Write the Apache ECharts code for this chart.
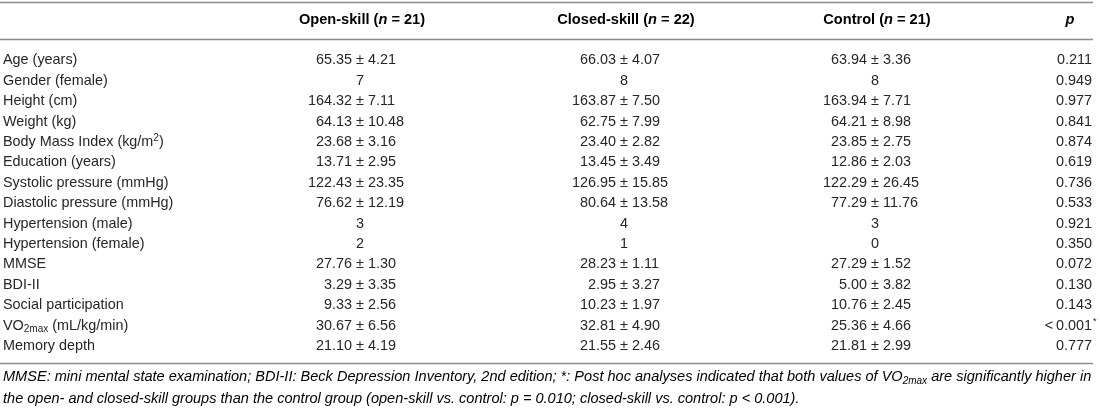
<!DOCTYPE html>
<html lang="en">
<head>
<meta charset="UTF-8">
<title>Participant characteristics</title>
<script src="https://cdn.jsdelivr.net/npm/echarts@6/dist/echarts.min.js"></script>
<style>
    html, body { margin: 0; padding: 0; background: #fff; }
    #table { width: 1100px; height: 412px; }
</style>
</head>
<body>
<div id="table"></div>
<script>
    // table data
    let rowLabels = ['Age (years)', 'Gender (female)', 'Height (cm)', 'Weight (kg)', 'Body Mass Index (kg/m{sup|2})',
        'Education (years)', 'Systolic pressure (mmHg)', 'Diastolic pressure (mmHg)', 'Hypertension (male)',
        'Hypertension (female)', 'MMSE', 'BDI-II', 'Social participation', 'VO{sub|2max} (mL/kg/min)', 'Memory depth'];
    let groupNames = ['Open-skill', 'Closed-skill', 'Control'];
    let groupN = [21, 22, 21];
    let openMean = [65.35, 7, 164.32, 64.13, 23.68, 13.71, 122.43, 76.62, 3, 2, 27.76, 3.29, 9.33, 30.67, 21.10];
    let openSd = [4.21, null, 7.11, 10.48, 3.16, 2.95, 23.35, 12.19, null, null, 1.30, 3.35, 2.56, 6.56, 4.19];
    let closedMean = [66.03, 8, 163.87, 62.75, 23.40, 13.45, 126.95, 80.64, 4, 1, 28.23, 2.95, 10.23, 32.81, 21.55];
    let closedSd = [4.07, null, 7.50, 7.99, 2.82, 3.49, 15.85, 13.58, null, null, 1.11, 3.27, 1.97, 4.90, 2.46];
    let controlMean = [63.94, 8, 163.94, 64.21, 23.85, 12.86, 122.29, 77.29, 3, 0, 27.29, 5.00, 10.76, 25.36, 21.81];
    let controlSd = [3.36, null, 7.71, 8.98, 2.75, 2.03, 26.45, 11.76, null, null, 1.52, 3.82, 2.45, 4.66, 2.99];
    let pValues = [0.211, 0.949, 0.977, 0.841, 0.874, 0.619, 0.736, 0.533, 0.921, 0.350, 0.072, 0.130, 0.143, 0.001, 0.777];
    let pBelow = [false, false, false, false, false, false, false, false, false, false, false, false, false, true, false];
    let footnote = [
        '{i|MMSE: mini mental state examination; BDI-II: Beck Depression Inventory, 2nd edition; *: Post hoc analyses indicated that both values of VO}{sub|2max}{i| are significantly higher in}',
        '{i|the open- and closed-skill groups than the control group (open-skill vs. control: p = 0.010; closed-skill vs. control: p < 0.001).}'
    ];

    // layout
    const FONT = '"Liberation Sans", Arial, Helvetica, sans-serif';
    const SIZE = 14.4;
    const TEXT = '#262626';
    const RULE = '#8c8c8c';
    const colX = [360, 624, 875];
    const pRight = 1092;
    const pHeadX = 1070;

    function txt(s, x, y, align, extra) {
        return {
            type: 'text',
            style: Object.assign({
                text: s, x: x, y: y, align: align, verticalAlign: 'middle',
                fontSize: SIZE, fontFamily: FONT, fill: TEXT
            }, extra || {})
        };
    }

    function groupSeries(mean, sd, x) {
        return {
            type: 'custom',
            coordinateSystem: 'cartesian2d',
            data: mean.map(function (m, i) { return [i, m, sd[i] == null ? '-' : sd[i]]; }),
            encode: { y: 0 },
            silent: true,
            renderItem: function (params, api) {
                let pt = api.coord([x, api.value(0)]);
                let m = api.value(1), s = api.value(2);
                if (isNaN(s)) {
                    return txt(String(m), pt[0], pt[1], 'center');
                }
                return {
                    type: 'group',
                    children: [
                        txt(m.toFixed(2), pt[0] - 8, pt[1], 'right'),
                        txt('\u00b1', pt[0], pt[1], 'center'),
                        txt(s.toFixed(2), pt[0] + 8, pt[1], 'left')
                    ]
                };
            }
        };
    }

    let pSeries = {
        type: 'custom',
        coordinateSystem: 'cartesian2d',
        data: pValues.map(function (p, i) { return [i, p, pBelow[i] ? 1 : 0]; }),
        encode: { y: 0 },
        silent: true,
        renderItem: function (params, api) {
            let pt = api.coord([pRight, api.value(0)]);
            let below = api.value(2) === 1;
            let label = (below ? '<\u2009' : '') + api.value(1).toFixed(3);
            let kids = [txt(label, pt[0], pt[1], 'right')];
            if (below) {
                kids.push(txt('*', pt[0] + 1, pt[1] - 4, 'left', { fontSize: 9 }));
            }
            return { type: 'group', children: kids };
        }
    };

    let headRich = {
        b: { fontFamily: FONT, fontSize: 14.6, fontWeight: 'bold', color: TEXT },
        bi: { fontFamily: FONT, fontSize: 14.6, fontWeight: 'bold', fontStyle: 'italic', color: TEXT }
    };

    let graphics = [
        { type: 'line', shape: { x1: 0, y1: 2.5, x2: 1093, y2: 2.5 }, style: { stroke: RULE, lineWidth: 1.6 } },
        { type: 'line', shape: { x1: 0, y1: 39.5, x2: 1093, y2: 39.5 }, style: { stroke: RULE, lineWidth: 1.6 } },
        { type: 'line', shape: { x1: 0, y1: 363.5, x2: 1093, y2: 363.5 }, style: { stroke: RULE, lineWidth: 1.6 } },
        {
            type: 'text', x: pHeadX, y: 19.5,
            style: { text: '{bi|p}', align: 'center', verticalAlign: 'middle', rich: headRich }
        }
    ];
    groupNames.forEach(function (g, i) {
        graphics.push({
            type: 'text', x: colX[i] + 2, y: 19.5,
            style: {
                text: '{b|' + g + ' (}{bi|n}{b| = ' + groupN[i] + ')}',
                align: 'center', verticalAlign: 'middle', rich: headRich
            }
        });
    });
    let footRich = {
        i: { fontFamily: FONT, fontSize: 14.56, fontStyle: 'italic', color: TEXT, lineHeight: 18 },
        sub: { fontFamily: FONT, fontSize: 10, fontStyle: 'italic', color: TEXT, lineHeight: 10, verticalAlign: 'bottom' }
    };
    footnote.forEach(function (line, i) {
        graphics.push({
            type: 'text', x: 3, y: 377 + i * 22,
            style: { text: line, align: 'left', verticalAlign: 'middle', rich: footRich }
        });
    });

    let option = {
        animation: false,
        grid: { left: 0, right: 0, top: 50.3, bottom: 55.7 },
        xAxis: { type: 'value', min: 0, max: 1100, show: false },
        yAxis: {
            type: 'category',
            inverse: true,
            data: rowLabels,
            axisLine: { show: false },
            axisTick: { show: false },
            splitLine: { show: false },
            axisLabel: {
                inside: true, margin: 3, align: 'left', interval: 0,
                fontFamily: FONT, fontSize: SIZE, color: TEXT, lineHeight: 18,
                rich: {
                    sub: { fontFamily: FONT, fontSize: 10, color: TEXT, lineHeight: 10, verticalAlign: 'bottom' },
                    sup: { fontFamily: FONT, fontSize: 10, color: TEXT, lineHeight: 10, verticalAlign: 'top' }
                }
            }
        },
        graphic: graphics,
        series: [
            groupSeries(openMean, openSd, colX[0]),
            groupSeries(closedMean, closedSd, colX[1]),
            groupSeries(controlMean, controlSd, colX[2]),
            pSeries
        ]
    };

    let myChart = echarts.init(document.getElementById('table'));
    myChart.setOption(option);
</script>
</body>
</html>
